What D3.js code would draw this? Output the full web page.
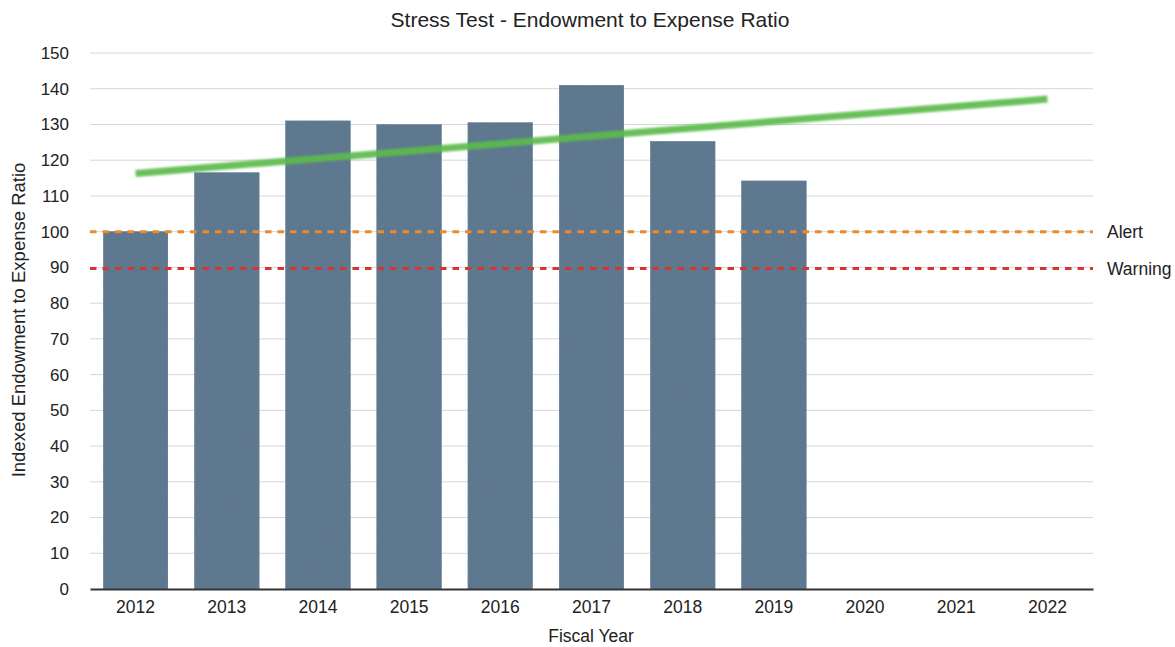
<!DOCTYPE html>
<html>
<head>
<meta charset="utf-8">
<script src="https://cdn.jsdelivr.net/npm/d3@7"></script>
<style>
  body { margin: 0; background: #fff; }
  text { font-family: "Liberation Sans", Arial, sans-serif; fill: #222; }
</style>
</head>
<body>
<div id="chart"></div>
<script>
var years = ["2012", "2013", "2014", "2015", "2016", "2017", "2018", "2019", "2020", "2021", "2022"];
var ratios = [100, 116.5, 131, 130, 130.5, 141, 125.3, 114.2, null, null, null];
var trendYears = ["2012", "2022"];
var trendValues = [116.3, 137.1];
var thresholds = [
    { label: "Alert", value: 100, color: "#ec8a2c" },
    { label: "Warning", value: 89.7, color: "#d8362d" }
];
var yTicks = d3.range(0, 151, 10);

var width = 1175, height = 647;
var margin = { top: 53, right: 82, bottom: 58, left: 90 };

var svg = d3.select("#chart").append("svg")
    .attr("width", width)
    .attr("height", height);

// paper-like texture for the bars
var defs = svg.append("defs");
var filt = defs.append("filter").attr("id", "paper")
    .attr("x", 0).attr("y", 0).attr("width", 1).attr("height", 1);
filt.append("feTurbulence")
    .attr("type", "fractalNoise")
    .attr("baseFrequency", 0.7)
    .attr("numOctaves", 3)
    .attr("seed", 3)
    .attr("result", "noise");
filt.append("feColorMatrix")
    .attr("in", "noise")
    .attr("type", "matrix")
    .attr("values", "0 0 0 0 0.1  0 0 0 0 0.15  0 0 0 0 0.2  -0.9 0 0 0 0.5")
    .attr("result", "dots");
filt.append("feComposite").attr("in", "dots").attr("in2", "SourceGraphic").attr("operator", "in").attr("result", "tex");
var merge = filt.append("feMerge");
merge.append("feMergeNode").attr("in", "SourceGraphic");
merge.append("feMergeNode").attr("in", "tex");

var glow = defs.append("filter").attr("id", "glow");
glow.append("feGaussianBlur").attr("stdDeviation", 0.8);

var x = d3.scaleBand()
    .domain(years)
    .range([margin.left, width - margin.right])
    .paddingInner(0.29)
    .paddingOuter(0.145);

var y = d3.scaleLinear()
    .domain([0, 150])
    .range([height - margin.bottom, margin.top]);

// grid
svg.append("g")
    .selectAll("line")
    .data(yTicks.filter(function(d) { return d > 0; }))
    .join("line")
    .attr("x1", margin.left)
    .attr("x2", width - margin.right)
    .attr("y1", function(d) { return y(d); })
    .attr("y2", function(d) { return y(d); })
    .attr("stroke", "#d6d6d6")
    .attr("stroke-width", 1);

// y tick labels
var yAxis = svg.append("g")
    .attr("transform", "translate(" + margin.left + ",0)")
    .call(d3.axisLeft(y).tickValues(yTicks).tickSize(0).tickPadding(21));
yAxis.select(".domain").remove();
yAxis.selectAll("text")
    .style("font-size", "17px")
    .style("font-family", "'Liberation Sans', Arial, sans-serif")
    .attr("fill", "#222");

// bars
var barData = years.map(function(d, i) { return { year: d, value: ratios[i] }; })
    .filter(function(d) { return d.value !== null; });

svg.append("g")
    .selectAll("rect")
    .data(barData)
    .join("rect")
    .attr("x", function(d) { return x(d.year); })
    .attr("width", x.bandwidth())
    .attr("y", function(d) { return y(d.value); })
    .attr("height", function(d) { return y(0) - y(d.value); })
    .attr("fill", "#5e7991")
    .attr("stroke", "#7089a0")
    .attr("stroke-width", 0.6)
    .attr("filter", "url(#paper)");

// threshold lines
var th = svg.append("g")
    .selectAll("g")
    .data(thresholds)
    .join("g");

th.append("line")
    .attr("x1", margin.left)
    .attr("x2", width - margin.right)
    .attr("y1", function(d) { return y(d.value); })
    .attr("y2", function(d) { return y(d.value); })
    .attr("stroke", function(d) { return d.color; })
    .attr("stroke-width", 3)
    .attr("stroke-dasharray", "6.5,6");

th.append("text")
    .attr("x", width - margin.right + 14)
    .attr("y", function(d) { return y(d.value); })
    .attr("dy", "0.35em")
    .style("font-size", "17.5px")
    .text(function(d) { return d.label; });

// trend line
var line = d3.line()
    .x(function(d) { return x(d.year) + x.bandwidth() / 2; })
    .y(function(d) { return y(d.value); });

svg.append("path")
    .datum(trendYears.map(function(d, i) { return { year: d, value: trendValues[i] }; }))
    .attr("d", line)
    .attr("fill", "none")
    .attr("stroke", "#5cbb4c")
    .attr("stroke-width", 7)
    .attr("stroke-opacity", 0.92)
    .attr("filter", "url(#glow)");

// x axis
var xAxis = svg.append("g")
    .attr("transform", "translate(0," + y(0) + ")")
    .call(d3.axisBottom(x).tickSize(0).tickPadding(12).tickSizeOuter(0));
xAxis.select(".domain")
    .attr("stroke", "#333")
    .attr("stroke-width", 2);
xAxis.selectAll("text")
    .style("font-size", "17.5px")
    .style("font-family", "'Liberation Sans', Arial, sans-serif")
    .attr("fill", "#222");

// titles
svg.append("text")
    .attr("x", 590)
    .attr("y", 27)
    .attr("text-anchor", "middle")
    .style("font-size", "21px")
    .text("Stress Test - Endowment to Expense Ratio");

svg.append("text")
    .attr("x", 591)
    .attr("y", 642)
    .attr("text-anchor", "middle")
    .style("font-size", "17.5px")
    .text("Fiscal Year");

svg.append("text")
    .attr("transform", "translate(25," + 320 + ") rotate(-90)")
    .attr("text-anchor", "middle")
    .style("font-size", "18.5px")
    .text("Indexed Endowment to Expense Ratio");
</script>
</body>
</html>
